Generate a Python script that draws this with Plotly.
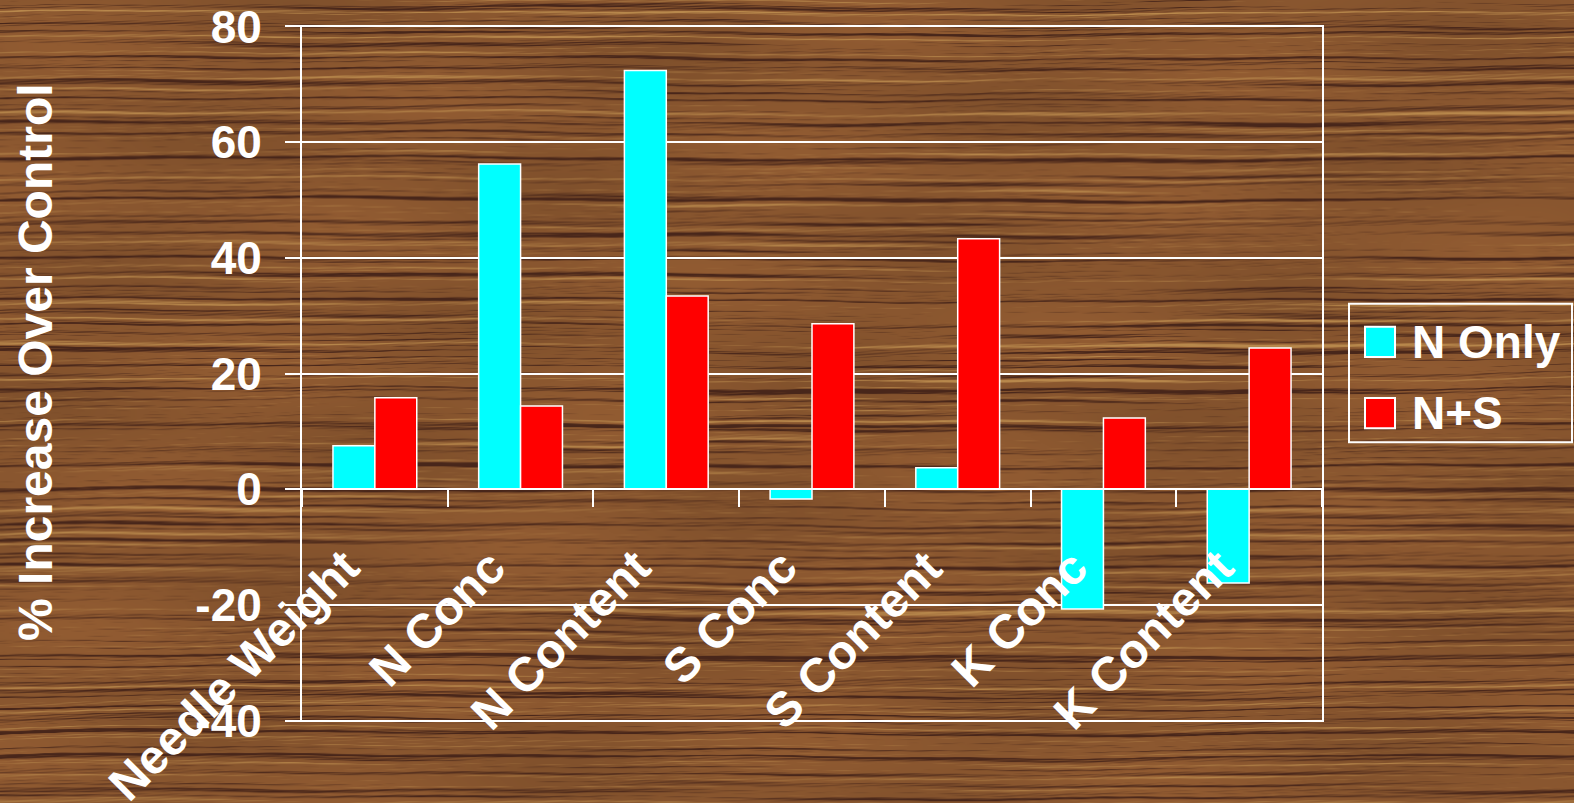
import base64
import struct
import zlib

import numpy as np
import plotly.graph_objects as go

# ---- data -------------------------------------------------------------
categories = ["Needle Weight", "N Conc", "N Content", "S Conc",
              "S Content", "K Conc", "K Content"]
n_only = [7.5, 56.2, 72.4, -1.7, 3.7, -20.7, -16.2]
n_plus_s = [15.8, 14.4, 33.4, 28.6, 43.3, 12.3, 24.4]
series_names = ["N Only", "N+S"]
series_colors = ["#00FFFF", "#FF0000"]
y_ticks = [-40, -20, 0, 20, 40, 60, 80]
y_ticktext = ["-40", "-20", "0", "20", "40", "60", "80"]
y_title = "% Increase Over Control"

# ---- page geometry (pixels) ------------------------------------------
W, H = 1574, 803
PL, PR, PT, PB = 302, 1322, 26, 721          # plot-area edges
Y_PAD = 0.25                                 # keeps end gridlines visible
FONT = dict(family="Liberation Sans, Arial, sans-serif", size=46,
            color="white", weight="bold")
BIG_FONT = dict(FONT, size=48)


def px(x):
    return (x - PL) / (PR - PL)


def py(y):
    return (PB - y) / (PB - PT)


# ---- wood-grain backdrop rendered to a PNG ------------------------------
def wood_texture(w, h, xstep=2):
    cols = int(np.ceil(w / xstep))
    yy, cc = np.mgrid[0:h, 0:cols].astype(float)
    xx = cc * xstep
    warp = (1.6 * np.sin(xx / 230 + 0.3) + 1.0 * np.sin(xx / 95 + yy / 40)
            + 0.6 * np.sin(xx / 37 + yy / 17))
    yw = yy + warp
    periods = [2.3, 3.7, 5.9, 8.3, 12.7, 19.1, 33.0]
    amps = [0.10, 0.16, 0.22, 0.26, 0.30, 0.22, 0.18]
    phases = [0.4, 1.9, 2.7, 0.9, 4.1, 5.3, 2.2]
    g = np.zeros_like(yy)
    for k, (p, a, ph) in enumerate(zip(periods, amps, phases)):
        fade = 0.65 + 0.35 * np.sin(xx / (60 + 37 * k) + yy / (13 + 5 * k) + ph)
        g += a * fade * np.sin(2 * np.pi * yw / p + ph
                               + 0.5 * np.sin(xx / (29 + 11 * k)))
    g += 0.08 * np.sin(2 * np.pi * yw / 3.1 + xx / 7.0)
    dark = np.clip((g - 0.12) / 0.40, 0, 1)[..., None]
    light = np.clip((-g - 0.30) / 0.45, 0, 1)[..., None]
    tint = (0.5 + 0.5 * np.sin(xx / 210 + yy / 37)
            * np.cos(xx / 90 - yy / 61))[..., None]
    mid = np.array([140, 88, 48], float) * (0.92 + 0.12 * tint)
    dark_c = np.array([72, 38, 26], float)
    light_c = np.array([184, 136, 76], float)
    img = mid + (dark_c - mid) * dark + (light_c - mid) * light
    return np.clip(img, 0, 255).astype(np.uint8)


def to_png(arr):
    h, w, _ = arr.shape
    raw = b"".join(b"\x00" + arr[r].tobytes() for r in range(h))

    def chunk(tag, data):
        return (struct.pack(">I", len(data)) + tag + data
                + struct.pack(">I", zlib.crc32(tag + data) & 0xFFFFFFFF))

    return (b"\x89PNG\r\n\x1a\n"
            + chunk(b"IHDR", struct.pack(">IIBBBBB", w, h, 8, 2, 0, 0, 0))
            + chunk(b"IDAT", zlib.compress(raw, 9))
            + chunk(b"IEND", b""))


wood_uri = "data:image/png;base64," + base64.b64encode(
    to_png(wood_texture(W, H))).decode()

# ---- figure -----------------------------------------------------------
fig = go.Figure()
for name, vals, col in zip(series_names, [n_only, n_plus_s], series_colors):
    fig.add_trace(go.Bar(
        x=categories, y=vals, name=name,
        marker=dict(color=col, line=dict(color="white", width=1.5)),
        showlegend=False,
    ))

# rotated category labels hanging below the zero line
annotations = []
for cat in categories:
    annotations.append(dict(
        x=cat, y=0, xref="x", yref="y", text=cat, showarrow=False,
        textangle=-45, xanchor="right", yanchor="top",
        xshift=-3, yshift=-48, font=BIG_FONT,
    ))

# y-axis title
annotations.append(dict(
    x=px(36), y=py(362), xref="paper", yref="paper", text=y_title,
    showarrow=False, textangle=-90, xanchor="center", yanchor="middle",
    font=BIG_FONT,
))

# legend box with swatches
shapes = [dict(type="rect", xref="paper", yref="paper",
               x0=px(1349), x1=px(1572), y0=py(442), y1=py(304),
               line=dict(color="white", width=2), fillcolor="rgba(0,0,0,0)")]
swatch_tops = [327, 398]
for name, col, top in zip(series_names, series_colors, swatch_tops):
    shapes.append(dict(type="rect", xref="paper", yref="paper",
                       x0=px(1365), x1=px(1395), y0=py(top + 30), y1=py(top),
                       line=dict(color="white", width=2), fillcolor=col))
    annotations.append(dict(
        x=px(1410), y=py(top + 15), xref="paper", yref="paper", text=name,
        showarrow=False, xanchor="left", yanchor="middle", font=FONT,
    ))

# expand the plot area slightly so the padded range keeps the same scale
unit = (PB - PT) / 120.0
pad_px = Y_PAD * unit
fig.update_layout(
    width=W, height=H,
    margin=dict(l=PL, r=W - PR, t=PT - pad_px, b=H - PB - pad_px, pad=0),
    paper_bgcolor="#8a5830", plot_bgcolor="rgba(0,0,0,0)",
    barmode="group", bargap=0.425, bargroupgap=0,
    font=FONT,
    annotations=annotations, shapes=shapes,
    images=[dict(source=wood_uri, xref="paper", yref="paper",
                 x=px(0), y=py(0), sizex=W / (PR - PL), sizey=H / (PB - PT),
                 xanchor="left", yanchor="top", sizing="stretch",
                 layer="below")],
)

fig.update_xaxes(
    type="category", range=[-0.5, len(categories) - 0.5],
    anchor="free", position=(40 + Y_PAD) / (120 + 2 * Y_PAD),
    automargin=False,
    showticklabels=False, showgrid=False,
    showline=True, linecolor="white", linewidth=2,
    ticks="outside", tickson="boundaries", ticklen=17,
    tickcolor="white", tickwidth=2,
)
fig.update_yaxes(
    range=[-40 - Y_PAD, 80 + Y_PAD], tickvals=y_ticks, ticktext=y_ticktext,
    automargin=False,
    showgrid=True, gridcolor="white", gridwidth=2,
    zeroline=True, zerolinecolor="white", zerolinewidth=2,
    showline=True, linecolor="white", linewidth=2, mirror=True,
    ticks="outside", ticklen=15, tickcolor="white", tickwidth=2,
    ticklabelstandoff=14, tickfont=FONT,
)

fig.write_html("out.html")
